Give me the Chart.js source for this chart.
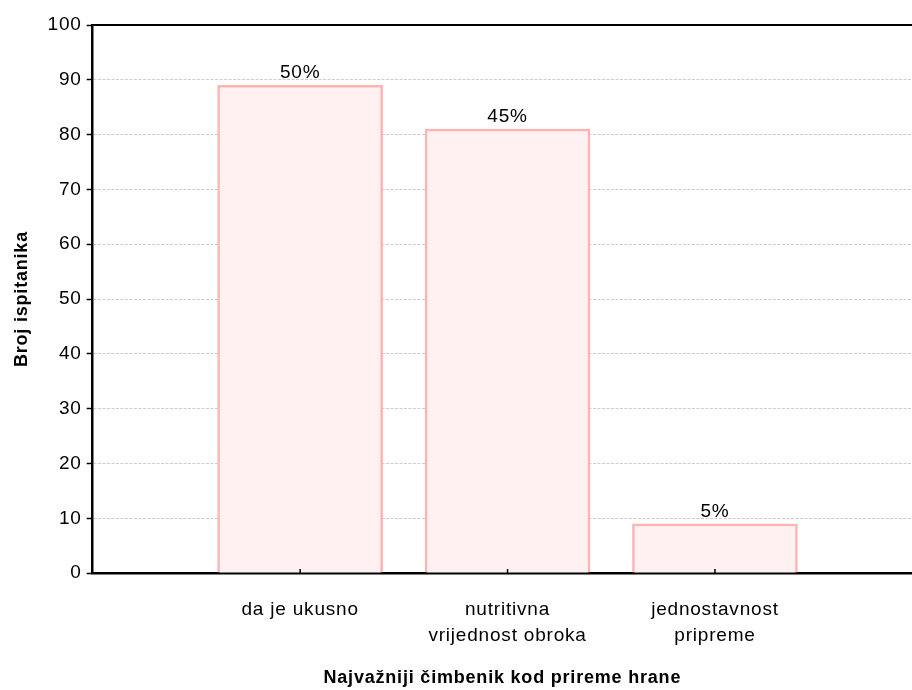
<!DOCTYPE html>
<html>
<head>
<meta charset="utf-8">
<script src="https://cdn.jsdelivr.net/npm/chart.js@4/dist/chart.umd.min.js"></script>
<style>
  html, body { margin: 0; padding: 0; background: #fff; }
  #wrap { width: 912px; height: 690px; }
</style>
</head>
<body>
<div id="wrap"><canvas id="chart"></canvas></div>
<script>
/* ================================
   DATA
================================ */

const categories = [
  ["da je ukusno"],
  ["nutritivna", "vrijednost obroka"],
  ["jednostavnost", "pripreme"]
];
const counts = [89, 81, 9];
const percentLabels = ["50%", "45%", "5%"];
const yTicks = [0, 10, 20, 30, 40, 50, 60, 70, 80, 90, 100];

const FONT = "'Liberation Sans', Arial, sans-serif";
const SPACING = "0.8px";

/* ================================
   EXTRA DRAWING
================================ */

const extras = {
  id: "extras",
  beforeUpdate(chart) { chart.ctx.letterSpacing = SPACING; },
  beforeDraw(chart) { chart.ctx.letterSpacing = SPACING; },
  afterDatasetsDraw(chart) {
    const { ctx, chartArea, scales } = chart;
    const meta = chart.getDatasetMeta(0);
    ctx.save();
    ctx.letterSpacing = SPACING;
    ctx.font = "19px " + FONT;
    ctx.fillStyle = "#000";
    ctx.textAlign = "center";
    ctx.textBaseline = "alphabetic";
    meta.data.forEach((bar, i) => ctx.fillText(percentLabels[i], bar.x, bar.y - 7));

    // top frame line
    ctx.strokeStyle = "#000";
    ctx.lineWidth = 2;
    ctx.beginPath();
    ctx.moveTo(chartArea.left, chartArea.top);
    ctx.lineTo(chartArea.right, chartArea.top);
    ctx.stroke();

    // inward tick marks on x axis
    ctx.lineWidth = 1.5;
    counts.forEach((v, i) => {
      const x = scales.x.getPixelForValue(i + 1);
      ctx.beginPath();
      ctx.moveTo(x, chartArea.bottom);
      ctx.lineTo(x, chartArea.bottom - 4);
      ctx.stroke();
    });
    ctx.restore();
  }
};

/* ================================
   CHART
================================ */

new Chart(document.getElementById("chart"), {
  type: "bar",
  data: {
    datasets: [{
      data: counts.map((v, i) => ({ x: i + 1, y: v })),
      backgroundColor: "#fff1f1",
      borderColor: "#ffb3b3",
      borderWidth: 2.5,
      barThickness: 165
    }]
  },
  options: {
    responsive: true,
    maintainAspectRatio: false,
    animation: false,
    layout: { padding: { left: 0, right: 0, top: 25, bottom: 1 } },
    plugins: { legend: { display: false }, tooltip: { enabled: false } },
    scales: {
      x: {
        type: "linear",
        min: 0,
        max: 3.95,
        offset: false,
        afterBuildTicks: s => { s.ticks = categories.map((c, i) => ({ value: i + 1 })); },
        ticks: {
          callback: v => categories[v - 1],
          color: "#000",
          font: { family: FONT, size: 19, lineHeight: 1.35 },
          padding: 0,
          maxRotation: 0,
          autoSkip: false
        },
        grid: { display: false, drawTicks: true, tickLength: 24 },
        border: { display: true, color: "#000", width: 2.5 },
        title: {
          display: true,
          text: "Najvažniji čimbenik kod prireme hrane",
          color: "#000",
          font: { family: FONT, size: 18, weight: "bold" },
          padding: { top: 19, bottom: 0 }
        }
      },
      y: {
        min: 0,
        max: 100,
        afterBuildTicks: s => { s.ticks = yTicks.map(v => ({ value: v })); },
        ticks: {
          color: "#000",
          font: { family: FONT, size: 19 },
          padding: 5
        },
        grid: {
          color: c => (c.tick && (c.tick.value === 0 || c.tick.value === 100)) ? "rgba(0,0,0,0)" : "#cccccc",
          lineWidth: 1,
          tickColor: "#000",
          tickLength: 6,
          tickWidth: 1.5
        },
        border: { display: true, color: "#000", width: 2.5, dash: [3, 1.5] },
        title: {
          display: true,
          text: "Broj ispitanika",
          color: "#000",
          font: { family: FONT, size: 18, weight: "bold" },
          padding: { top: 11, bottom: 10 }
        }
      }
    }
  },
  plugins: [extras]
});
</script>
</body>
</html>
